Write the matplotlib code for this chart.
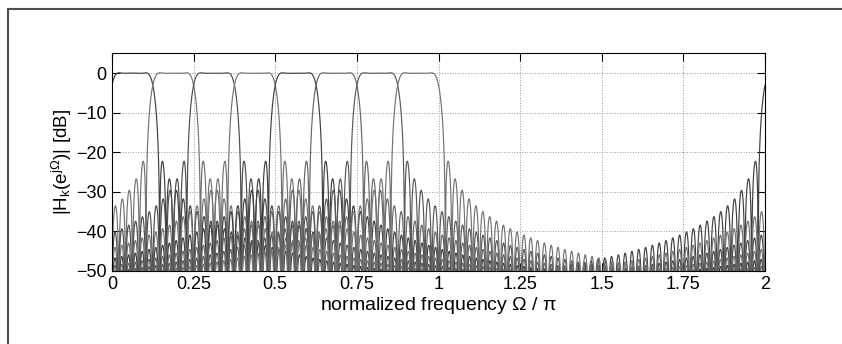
import numpy as np
import matplotlib
matplotlib.use("Agg")
import matplotlib.pyplot as plt
from matplotlib.lines import Line2D

plt.rcParams['font.family'] = ['Liberation Sans', 'DejaVu Sans']
plt.rcParams['mathtext.fontset'] = 'custom'
plt.rcParams['mathtext.rm'] = 'Liberation Sans'
plt.rcParams['mathtext.it'] = 'Liberation Sans'

# filter bank: 8 complex modulated channels on [0, pi]
band_centers = [0.0625, 0.1875, 0.3125, 0.4375, 0.5625, 0.6875, 0.8125, 0.9375]  # x pi
band_half = 0.0625     # x pi, half width of a channel
trans_width = 0.024    # x pi, transition band of the prototype
n_taps = 96
pass_weight = 40.0
stop_scale = 0.25      # x pi, stopband weight grows linearly with distance / stop_scale
edge_level_db = -3.0
line_grays = ['0.25', '0.45', '0.3', '0.45', '0.25', '0.4', '0.35', '0.45']

xticks = [0, 0.25, 0.5, 0.75, 1, 1.25, 1.5, 1.75, 2]
xticklabels = ['0', '0.25', '0.5', '0.75', '1', '1.25', '1.5', '1.75', '2']
yticks = [-50, -40, -30, -20, -10, 0]

# prototype lowpass: weighted least squares, linear phase
m = np.arange(n_taps // 2)
tau = (n_taps - 1) / 2
grid = np.linspace(0, 1, 3000)
C = 2 * np.cos(np.pi * np.outer(grid, tau - m))


def design(mid):
    wp, ws = mid - trans_width / 2, mid + trans_width / 2
    d = (grid <= wp).astype(float)
    ws_w = 1.0 + (grid - ws) / stop_scale
    w = np.where(grid <= wp, pass_weight, np.where(grid >= ws, ws_w, 0.0))
    sw = np.sqrt(w)
    a = np.linalg.lstsq(C * sw[:, None], d * sw, rcond=None)[0]
    return np.concatenate([a, a[::-1]])


best = None
for mid in np.linspace(band_half - 0.01, band_half + 0.015, 60):
    h = design(mid)
    H = np.abs(np.sum(h * np.exp(-1j * np.pi * band_half * np.arange(n_taps))))
    err = abs(20 * np.log10(H / h.sum()) - edge_level_db)
    if best is None or err < best[0]:
        best = (err, h)
h0 = best[1] / best[1].sum()

nfft = 8192
omega = np.arange(nfft + 1) / nfft * 2  # x pi

fig = plt.figure(figsize=(8.42, 3.44), dpi=100)
ax = fig.add_axes([0.133, 0.213, 0.7756, 0.632])

for k, c in enumerate(band_centers):
    hk = h0 * np.exp(1j * np.pi * c * np.arange(n_taps))
    Hk = np.fft.fft(hk, nfft)
    Hk = np.append(Hk, Hk[0])
    mag = 20 * np.log10(np.abs(Hk) + 1e-12)
    ax.plot(omega, mag, color=line_grays[k], lw=0.85)

ax.set_xlim(0, 2)
ax.set_ylim(-50, 5)
ax.set_xticks(xticks)
ax.set_xticklabels(xticklabels)
ax.set_yticks(yticks)
ax.tick_params(direction='in', top=True, right=True, labelsize=13, length=6, width=0.8, pad=4)
ax.grid(True, linestyle=':', color='0.6', lw=0.7)
for s in ax.spines.values():
    s.set_linewidth(0.8)
ax.set_xlabel(r'normalized frequency $\Omega$ / $\pi$', fontsize=14, labelpad=1)
ax.set_ylabel(r'$|\mathrm{H_k(e^{j\Omega})}|$ [dB]', fontsize=13.5, labelpad=1)

# slide frame, cut off at right and bottom
fig.add_artist(Line2D([8 / 842, 1], [1 - 9 / 344, 1 - 9 / 344], color='0.3', lw=1.5))
fig.add_artist(Line2D([8 / 842, 8 / 842], [0, 1 - 9 / 344], color='0.3', lw=1.5))

fig.savefig('out.png', dpi=100)
